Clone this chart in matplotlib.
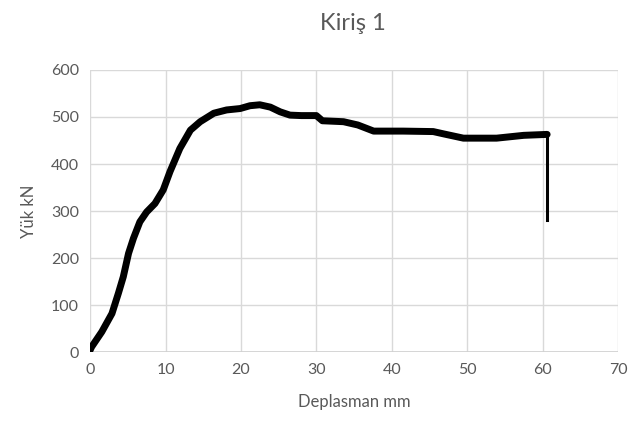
"""Kiriş 1 - load vs displacement curve."""

import matplotlib.pyplot as plt

# values
deplasman = [0.0, 0.2, 1.55, 2.9, 3.75, 4.4, 5.1, 5.75, 6.6, 7.5, 8.6, 9.7,
             10.6, 11.9, 13.3, 14.6, 16.4, 18.1, 19.9, 21.2, 22.5, 23.9,
             25.2, 26.5, 28.0, 30.0, 30.8, 33.6, 35.5, 37.6, 41.5, 45.5,
             46.9, 49.5, 53.9, 57.5, 60.6]
yuk = [4, 11, 43, 82, 125, 160, 210, 242, 277, 298, 316, 345,
       384, 433, 472, 490, 508, 515, 518, 524, 526, 521,
       511, 504, 503, 503, 492, 490, 483, 470, 470, 469,
       464, 455, 455, 461, 463]
dusus_x = [60.6, 60.6]
dusus_y = [463, 280]

plt.rcParams["font.family"] = ["Lato", "DejaVu Sans"]
grey = "#595959"

fig = plt.figure(figsize=(6.3, 4.32), dpi=100)
ax = fig.add_axes([0.143, 0.185, 0.838, 0.653])

ax.plot(deplasman, yuk, color="black", lw=5, solid_capstyle="round",
        solid_joinstyle="round", zorder=3)
ax.plot(dusus_x, dusus_y, color="black", lw=2.2, zorder=3)

ax.set_xlim(0, 70)
ax.set_ylim(0, 600)
ax.set_xticks(range(0, 71, 10))
ax.set_yticks(range(0, 601, 100))
ax.grid(True, color="#d9d9d9", lw=1)
ax.set_axisbelow(True)
for s in ax.spines.values():
    s.set_visible(False)
ax.axhline(0, color="#d0d0d0", lw=1.2, zorder=1)
ax.tick_params(length=0, labelsize=11.5, labelcolor=grey, pad=8)

ax.set_xlabel("Deplasman mm", fontsize=12, color=grey, labelpad=12)
ax.set_ylabel("Yük kN", fontsize=12, color=grey, labelpad=10)
fig.text(0.56, 0.945, "Kiriş 1", fontsize=17, color=grey, ha="center", va="center")

fig.savefig("out.png", dpi=100)
